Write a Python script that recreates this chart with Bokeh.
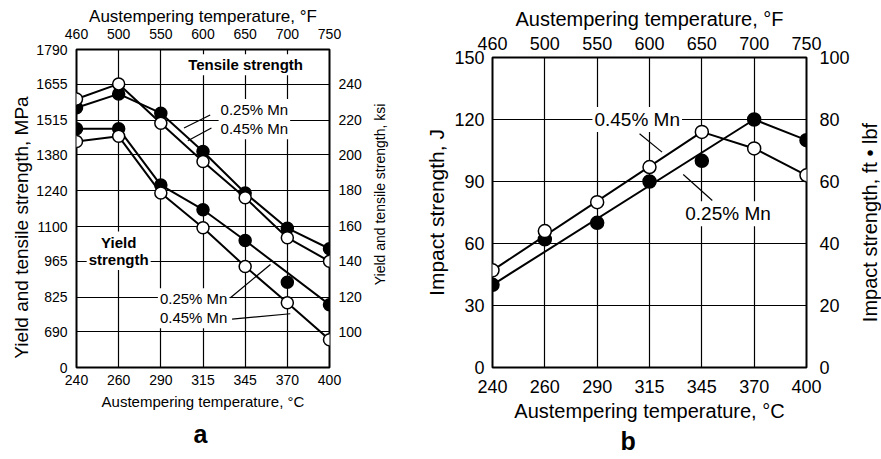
from bokeh.plotting import figure
from bokeh.models import LinearAxis, Range1d, FixedTicker, Label, Title
from bokeh.layouts import row, column
from bokeh.embed import file_html
from bokeh.resources import INLINE

FONT = "Liberation Sans"
H = 459

# ---------------- data ----------------
temp_c = ["240", "260", "290", "315", "345", "370", "400"]
temp_f = ["460", "500", "550", "600", "650", "700", "750"]
x_idx = list(range(len(temp_c)))

# panel a (MPa)
tensile_025 = [1563, 1617, 1542, 1393, 1231, 1094, 1014]
tensile_045 = [1597, 1656, 1503, 1354, 1213, 1057, 965]
yield_025 = [1481, 1481, 1262, 1166, 1046, 884, 796]
yield_045 = [1432, 1452, 1231, 1096, 945, 804, 660]
# points the drawn curves pass through (indices into the arrays above)
tensile_025_curve = [0, 1, 2, 3, 4, 5, 6]
tensile_045_curve = [0, 1, 2, 3, 4, 5, 6]
yield_025_curve = [0, 1, 2, 3, 4, 6]
yield_045_curve = [0, 1, 2, 3, 4, 5, 6]

mpa_ticks = [551.6, 690, 825, 965, 1100, 1240, 1380, 1515, 1655, 1790]
mpa_labels = ["0", "690", "825", "965", "1100", "1240", "1380", "1515", "1655", "1790"]
ksi_ticks = [80, 100, 120, 140, 160, 180, 200, 220, 240]
ksi_labels = ["0", "100", "120", "140", "160", "180", "200", "220", "240"]
MPA_PER_KSI = 6.89476

# panel b (J)
impact_025 = [40, 62, 70, 90, 100, 120, 110]
impact_045 = [47, 66, 80, 97, 114, 106, 93]
impact_025_curve = [0, 5, 6]
impact_045_curve = [0, 4, 5, 6]
j_ticks = [0, 30, 60, 90, 120, 150]
ftlbf_ticks = [0, 20, 40, 60, 80, 100]


def style_axis(ax, tick_size, title_size, label_standoff, title_standoff):
    ax.axis_line_color = None
    ax.major_tick_line_color = None
    ax.minor_tick_line_color = None
    ax.major_tick_out = 0
    ax.major_tick_in = 0
    ax.minor_tick_out = 0
    ax.minor_tick_in = 0
    ax.major_label_text_font = FONT
    ax.major_label_text_font_size = tick_size
    ax.major_label_text_color = "black"
    ax.axis_label_text_font = FONT
    ax.axis_label_text_font_size = title_size
    ax.axis_label_text_font_style = "normal"
    ax.axis_label_text_color = "black"
    ax.major_label_standoff = label_standoff
    ax.axis_label_standoff = title_standoff


def style_frame(p, ticks_y):
    p.xgrid.ticker = FixedTicker(ticks=x_idx)
    p.ygrid.ticker = FixedTicker(ticks=ticks_y)
    for g in (p.xgrid, p.ygrid):
        g.grid_line_color = "black"
        g.grid_line_width = 1.2
        g.grid_line_alpha = 1.0
    p.outline_line_color = "black"
    p.outline_line_width = 2
    p.background_fill_color = "white"
    p.border_fill_color = "white"


def note(p, x, y, text, size, bold=False, align="left"):
    p.add_layout(Label(x=x, y=y, text=text, text_font=FONT, text_font_size=size,
                       text_font_style="bold" if bold else "normal",
                       text_align=align, text_baseline="middle", text_color="black",
                       background_fill_color="white", padding=2))


def series(p, idx_curve, vals, filled, msize):
    xs = [x_idx[i] for i in idx_curve]
    ys = [vals[i] for i in idx_curve]
    p.line(xs, ys, line_color="black", line_width=2)
    p.scatter(x_idx, vals, marker="circle", size=msize,
              fill_color="black" if filled else "white",
              line_color="black", line_width=1.5)


def side_title(text, size, width, frame_left, center_y):
    """A narrow strip whose (upward-reading) left-axis title acts as a vertical title."""
    s = figure(width=width, height=H, x_range=Range1d(0, 1), y_range=Range1d(0, 1),
               output_backend="svg", toolbar_location=None, x_axis_location=None,
               min_border_left=frame_left, min_border_right=0,
               min_border_top=center_y - 1, min_border_bottom=H - center_y - 1)
    s.grid.visible = False
    s.outline_line_color = None
    s.background_fill_color = "white"
    s.border_fill_color = "white"
    a = s.yaxis[0]
    a.ticker = FixedTicker(ticks=[])
    a.axis_label = text
    style_axis(a, "1px", size, 0, 0)
    return s


def letter(p, text, offset, standoff):
    p.add_layout(Title(text=text, align="left", offset=offset, standoff=standoff,
                       text_font=FONT, text_font_size="25px", text_font_style="bold",
                       text_color="black"), "below")


# ---------------- panel a ----------------
pa = figure(width=335, height=H, x_range=Range1d(0, 6),
            y_range=Range1d(mpa_ticks[0], mpa_ticks[-1]),
            output_backend="svg", toolbar_location=None,
            min_border_left=43, min_border_right=39,
            min_border_top=49, min_border_bottom=92)
style_frame(pa, mpa_ticks)

ax = pa.xaxis[0]
ax.ticker = FixedTicker(ticks=x_idx)
ax.major_label_overrides = {i: t for i, t in zip(x_idx, temp_c)}
ax.axis_label = "Austempering temperature, °C"
style_axis(ax, "14px", "15px", 7, 5)

ay = pa.yaxis[0]
ay.ticker = FixedTicker(ticks=mpa_ticks)
ay.major_label_overrides = {t: l for t, l in zip(mpa_ticks, mpa_labels)}
style_axis(ay, "14px", "14px", 9, 0)

pa.extra_y_ranges = {"ksi": Range1d(mpa_ticks[0] / MPA_PER_KSI, mpa_ticks[-1] / MPA_PER_KSI)}
ar = LinearAxis(y_range_name="ksi", ticker=FixedTicker(ticks=ksi_ticks),
                major_label_overrides={t: l for t, l in zip(ksi_ticks, ksi_labels)})
style_axis(ar, "14px", "14px", 9, 0)
pa.add_layout(ar, "right")

at = LinearAxis(ticker=FixedTicker(ticks=x_idx),
                major_label_overrides={i: t for i, t in zip(x_idx, temp_f)},
                axis_label="Austempering temperature, °F")
style_axis(at, "14px", "17px", 11, 0)
pa.add_layout(at, "above")

series(pa, tensile_025_curve, tensile_025, True, 12)
series(pa, tensile_045_curve, tensile_045, False, 12)
series(pa, yield_025_curve, yield_025, True, 12)
series(pa, yield_045_curve, yield_045, False, 12)

# leader lines (annotation positions in data units)
lead_a_x0 = [2.55, 2.64, 3.65, 3.69]
lead_a_y0 = [1484, 1435, 823, 740]
lead_a_x1 = [3.17, 3.20, 4.60, 5.07]
lead_a_y1 = [1535, 1484, 953, 761]
pa.segment(lead_a_x0, lead_a_y0, lead_a_x1, lead_a_y1, line_color="black", line_width=1.2)

note(pa, 4.01, 1731, "Tensile strength", "15px", bold=True, align="center")
note(pa, 3.37, 1556, "0.25% Mn", "15px")
note(pa, 3.37, 1481, "0.45% Mn", "15px")
note(pa, 1.0, 1040, "Yield", "15px", bold=True, align="center")
note(pa, 1.0, 972, "strength", "15px", bold=True, align="center")
note(pa, 1.93, 819, "0.25% Mn", "15px")
note(pa, 1.93, 745, "0.45% Mn", "15px")
letter(pa, "a", 117, 11)

left_a = side_title("Yield and tensile strength, MPa", "19px", 33, 31, 227)
right_a = side_title("Yield and tensile strength, ksi", "14px", 52, 18, 194)

# ---------------- panel b ----------------
pb = figure(width=432, height=H, x_range=Range1d(0, 6),
            y_range=Range1d(j_ticks[0], j_ticks[-1]),
            output_backend="svg", toolbar_location=None,
            min_border_left=72, min_border_right=44,
            min_border_top=57, min_border_bottom=92)
style_frame(pb, j_ticks)

bx = pb.xaxis[0]
bx.ticker = FixedTicker(ticks=x_idx)
bx.major_label_overrides = {i: t for i, t in zip(x_idx, temp_c)}
bx.axis_label = "Austempering temperature, °C"
style_axis(bx, "18px", "20px", 12, 4)

by = pb.yaxis[0]
by.ticker = FixedTicker(ticks=j_ticks)
by.axis_label = "Impact strength, J"
style_axis(by, "18px", "21px", 8, 3)

pb.extra_y_ranges = {"ftlbf": Range1d(ftlbf_ticks[0], ftlbf_ticks[-1])}
br = LinearAxis(y_range_name="ftlbf", ticker=FixedTicker(ticks=ftlbf_ticks))
style_axis(br, "18px", "18px", 13, 0)
pb.add_layout(br, "right")

bt = LinearAxis(ticker=FixedTicker(ticks=x_idx),
                major_label_overrides={i: t for i, t in zip(x_idx, temp_f)},
                axis_label="Austempering temperature, °F")
style_axis(bt, "18px", "20px", 8, 4)
pb.add_layout(bt, "above")

series(pb, impact_025_curve, impact_025, True, 13)
series(pb, impact_045_curve, impact_045, False, 13)

lead_b_x0 = [2.81, 3.645]
lead_b_y0 = [113.1, 93.4]
lead_b_x1 = [3.24, 4.2]
lead_b_y1 = [104.2, 80.8]
pb.segment(lead_b_x0, lead_b_y0, lead_b_x1, lead_b_y1, line_color="black", line_width=1.2)

note(pb, 1.91, 120, "0.45% Mn", "19px")
note(pb, 3.645, 74.4, "0.25% Mn", "19px")
letter(pb, "b", 128, 0)

right_b = side_title("Impact strength, ft • lbf", "20px", 29, 28, 222)

layout = row(column(left_a), column(pa), column(right_a), column(pb), column(right_b))
open("out.html", "w").write(file_html(layout, INLINE))
